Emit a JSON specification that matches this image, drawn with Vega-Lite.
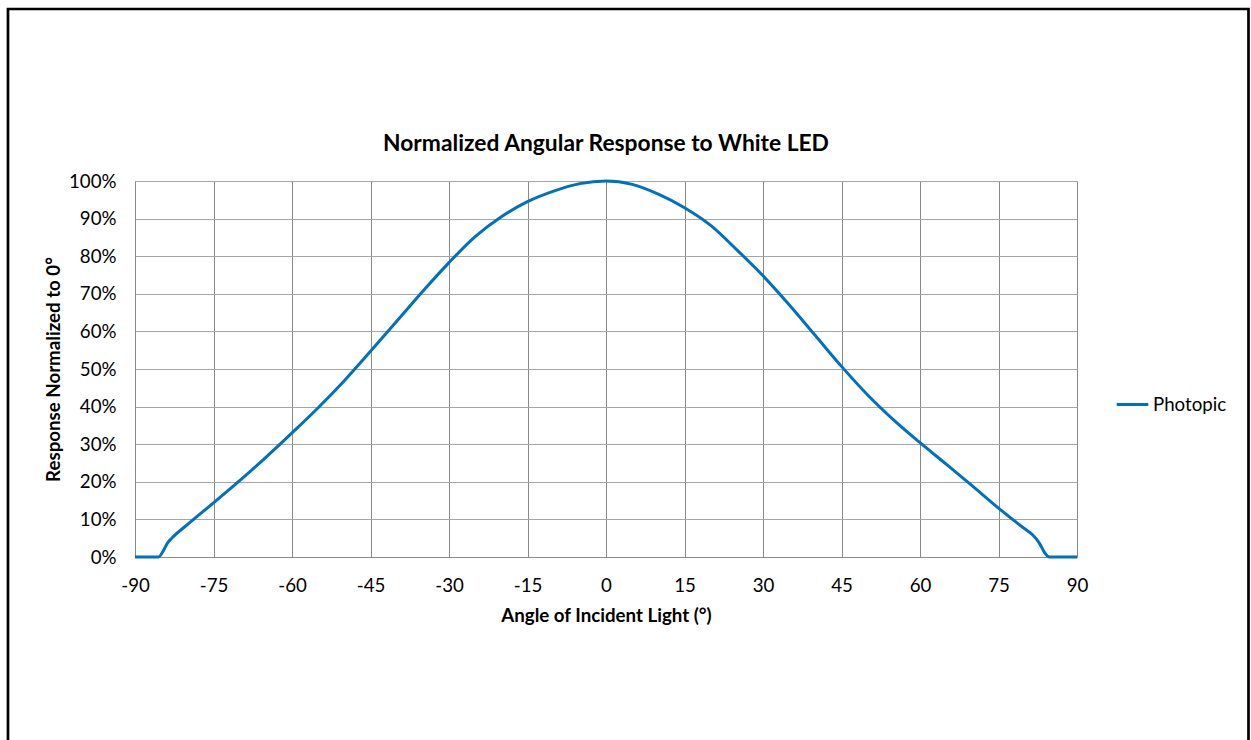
{
  "$schema": "https://vega.github.io/schema/vega-lite/v6.json",
  "autosize": {"type": "none"},
  "width": 942,
  "height": 376,
  "padding": {"left": 135, "top": 181, "right": 174, "bottom": 183},
  "background": "white",
  "config": {
    "font": "Lato",
    "view": {"stroke": null},
    "axis": {"labelFont": "Lato", "titleFont": "Lato", "labelColor": "#000000", "titleColor": "#000000"}
  },
  "title": {
    "text": "Normalized Angular Response to White LED",
    "font": "Lato",
    "fontSize": 22.8,
    "fontWeight": "bold",
    "color": "#000000",
    "anchor": "middle",
    "frame": "group",
    "offset": -148
  },
  "data": {
    "values": [
      {"angle": -90, "response": 0, "series": "Photopic"},
      {"angle": -87, "response": 0, "series": "Photopic"},
      {"angle": -85.5, "response": 0, "series": "Photopic"},
      {"angle": -84.5, "response": 0.019, "series": "Photopic"},
      {"angle": -83.8, "response": 0.037, "series": "Photopic"},
      {"angle": -82.9, "response": 0.051, "series": "Photopic"},
      {"angle": -80, "response": 0.086, "series": "Photopic"},
      {"angle": -75, "response": 0.144, "series": "Photopic"},
      {"angle": -70, "response": 0.203, "series": "Photopic"},
      {"angle": -65, "response": 0.265, "series": "Photopic"},
      {"angle": -60, "response": 0.330, "series": "Photopic"},
      {"angle": -55, "response": 0.397, "series": "Photopic"},
      {"angle": -50, "response": 0.469, "series": "Photopic"},
      {"angle": -45, "response": 0.547, "series": "Photopic"},
      {"angle": -40, "response": 0.627, "series": "Photopic"},
      {"angle": -35, "response": 0.707, "series": "Photopic"},
      {"angle": -30, "response": 0.783, "series": "Photopic"},
      {"angle": -25, "response": 0.852, "series": "Photopic"},
      {"angle": -20, "response": 0.905, "series": "Photopic"},
      {"angle": -15, "response": 0.945, "series": "Photopic"},
      {"angle": -10, "response": 0.973, "series": "Photopic"},
      {"angle": -5, "response": 0.993, "series": "Photopic"},
      {"angle": 0, "response": 1.0, "series": "Photopic"},
      {"angle": 5, "response": 0.991, "series": "Photopic"},
      {"angle": 10, "response": 0.965, "series": "Photopic"},
      {"angle": 15, "response": 0.929, "series": "Photopic"},
      {"angle": 20, "response": 0.882, "series": "Photopic"},
      {"angle": 25, "response": 0.817, "series": "Photopic"},
      {"angle": 30, "response": 0.748, "series": "Photopic"},
      {"angle": 35, "response": 0.671, "series": "Photopic"},
      {"angle": 40, "response": 0.589, "series": "Photopic"},
      {"angle": 45, "response": 0.507, "series": "Photopic"},
      {"angle": 50, "response": 0.431, "series": "Photopic"},
      {"angle": 55, "response": 0.364, "series": "Photopic"},
      {"angle": 60, "response": 0.304, "series": "Photopic"},
      {"angle": 65, "response": 0.247, "series": "Photopic"},
      {"angle": 70, "response": 0.189, "series": "Photopic"},
      {"angle": 75, "response": 0.130, "series": "Photopic"},
      {"angle": 80, "response": 0.075, "series": "Photopic"},
      {"angle": 81.5, "response": 0.059, "series": "Photopic"},
      {"angle": 82.8, "response": 0.037, "series": "Photopic"},
      {"angle": 83.8, "response": 0.012, "series": "Photopic"},
      {"angle": 84.7, "response": 0, "series": "Photopic"},
      {"angle": 87, "response": 0, "series": "Photopic"},
      {"angle": 90, "response": 0, "series": "Photopic"}
    ]
  },
  "layer": [
    {
      "mark": {"type": "line", "interpolate": "monotone", "strokeWidth": 3},
      "encoding": {
        "x": {
          "field": "angle",
          "type": "quantitative",
          "scale": {"domain": [-90, 90], "nice": false, "zero": false},
          "axis": {
            "values": [-90, -75, -60, -45, -30, -15, 0, 15, 30, 45, 60, 75, 90],
            "labelExpr": "'' + datum.value",
            "title": "Angle of Incident Light (°)",
            "titleFontSize": 18.7,
            "titleFontWeight": "bold",
            "titlePadding": 12,
            "labelFontSize": 18.7,
            "labelPadding": 19,
            "ticks": false,
            "grid": true,
            "gridColor": "#898989",
            "gridWidth": 1,
            "domainColor": "#898989",
            "domainWidth": 1,
            "labelFlush": false,
            "labelOverlap": false
          }
        },
        "y": {
          "field": "response",
          "type": "quantitative",
          "scale": {"domain": [0, 1], "nice": false},
          "axis": {
            "values": [0, 0.1, 0.2, 0.3, 0.4, 0.5, 0.6, 0.7, 0.8, 0.9, 1.0],
            "format": ".0%",
            "title": "Response Normalized to 0°",
            "titleFontSize": 18.7,
            "titleFontWeight": "bold",
            "titlePadding": 5,
            "labelFontSize": 18.7,
            "labelPadding": 19,
            "ticks": false,
            "grid": true,
            "gridColor": "#a6a6a6",
            "gridWidth": 1,
            "domainColor": "#898989",
            "domainWidth": 1,
            "labelFlush": false,
            "labelOverlap": false
          }
        },
        "color": {
          "field": "series",
          "type": "nominal",
          "scale": {"range": ["#0070C0"]},
          "legend": {
            "title": null,
            "orient": "none",
            "legendX": 980,
            "legendY": 206,
            "symbolType": "stroke",
            "symbolStrokeWidth": 3,
            "symbolSize": 1000,
            "labelFont": "Lato",
            "labelFontSize": 18.7,
            "labelColor": "#000000",
            "labelOffset": 3
          }
        }
      }
    },
    {
      "data": {"values": [{"frame": "chart area"}]},
      "mark": {"type": "rect", "fill": null, "stroke": "#000000", "strokeWidth": 2.7, "clip": false},
      "encoding": {
        "x": {
          "datum": -114.27,
          "type": "quantitative",
          "scale": {"domain": [-90, 90], "nice": false, "zero": false},
          "axis": {
            "values": [-90, -75, -60, -45, -30, -15, 0, 15, 30, 45, 60, 75, 90],
            "labelExpr": "'' + datum.value",
            "title": "Angle of Incident Light (°)",
            "titleFontSize": 18.7,
            "titleFontWeight": "bold",
            "titlePadding": 12,
            "labelFontSize": 18.7,
            "labelPadding": 19,
            "ticks": false,
            "grid": true,
            "gridColor": "#898989",
            "gridWidth": 1,
            "domainColor": "#898989",
            "domainWidth": 1,
            "labelFlush": false,
            "labelOverlap": false
          }
        },
        "x2": {"datum": 122.77},
        "y": {
          "datum": 1.4574,
          "type": "quantitative",
          "scale": {"domain": [0, 1], "nice": false},
          "axis": {
            "values": [0, 0.1, 0.2, 0.3, 0.4, 0.5, 0.6, 0.7, 0.8, 0.9, 1.0],
            "format": ".0%",
            "title": "Response Normalized to 0°",
            "titleFontSize": 18.7,
            "titleFontWeight": "bold",
            "titlePadding": 5,
            "labelFontSize": 18.7,
            "labelPadding": 19,
            "ticks": false,
            "grid": true,
            "gridColor": "#a6a6a6",
            "gridWidth": 1,
            "domainColor": "#898989",
            "domainWidth": 1,
            "labelFlush": false,
            "labelOverlap": false
          }
        },
        "y2": {"datum": -0.6}
      }
    }
  ]
}
